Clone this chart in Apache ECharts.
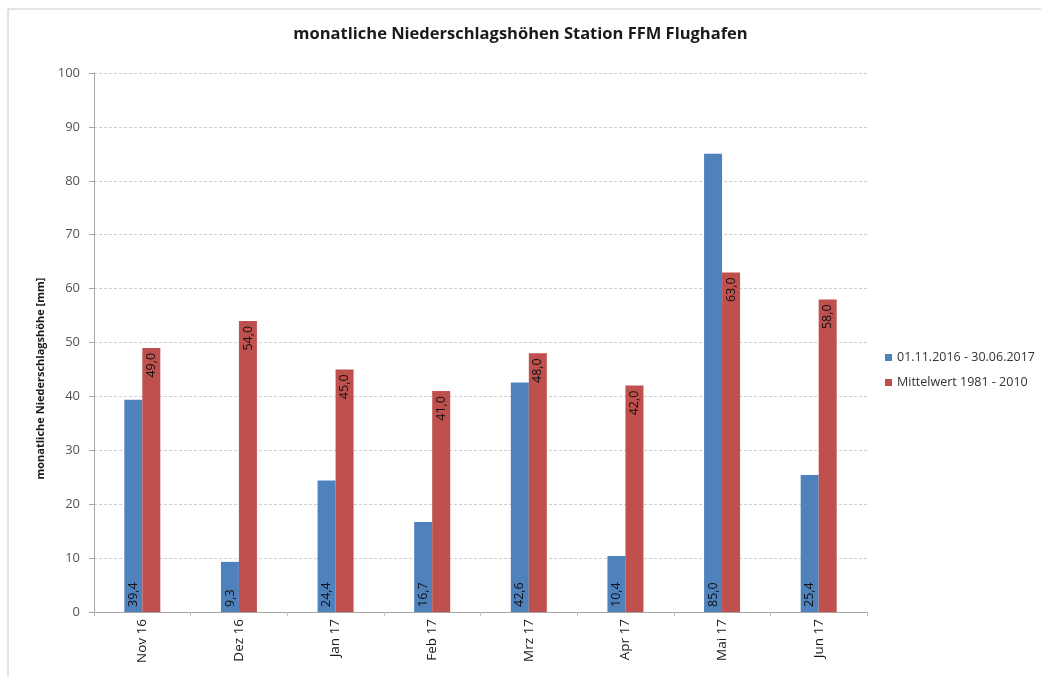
<!DOCTYPE html>
<html>
<head>
<meta charset="utf-8">
<script src="https://cdn.jsdelivr.net/npm/echarts@6/dist/echarts.min.js"></script>
<style>
  html, body { margin: 0; padding: 0; background: #fff; }
  #chart { width: 1041px; height: 677px; }
</style>
</head>
<body>
<div id="chart"></div>
<script>
const months = ['Nov 16', 'Dez 16', 'Jan 17', 'Feb 17', 'Mrz 17', 'Apr 17', 'Mai 17', 'Jun 17'];
const current = [39.4, 9.3, 24.4, 16.7, 42.6, 10.4, 85.0, 25.4];
const average = [49.0, 54.0, 45.0, 41.0, 48.0, 42.0, 63.0, 58.0];
const yTicks = [0, 10, 20, 30, 40, 50, 60, 70, 80, 90, 100];

const font = '"Open Sans", sans-serif';
const fmt = p => p.value.toFixed(1).replace('.', ',');

const chart = echarts.init(document.getElementById('chart'));

chart.setOption({
  animation: false,
  textStyle: { fontFamily: font },
  title: {
    text: 'monatliche Niederschlagshöhen Station FFM Flughafen',
    left: 'center',
    top: 21,
    textStyle: { fontSize: 16.5, fontWeight: 'bold', color: '#1a1a1a', fontFamily: font }
  },
  graphic: [{
    // Rahmen (nur links/oben sichtbar)
    type: 'rect',
    shape: { x: 8, y: 9, width: 1100, height: 700 },
    style: { fill: 'none', stroke: '#c8c8c8', lineWidth: 1 },
    silent: true
  }],
  legend: {
    orient: 'vertical',
    left: 880,
    top: 346,
    itemWidth: 7,
    itemHeight: 7,
    itemGap: 12,
    icon: 'rect',
    textStyle: { fontSize: 12.5, color: '#333', fontFamily: font },
    data: ['01.11.2016 - 30.06.2017', 'Mittelwert 1981 - 2010']
  },
  grid: { left: 94, right: 174, top: 73, bottom: 65 },
  xAxis: {
    type: 'category',
    data: months,
    axisLine: { lineStyle: { color: '#a6a6a6' } },
    axisTick: { show: true, length: 4, lineStyle: { color: '#c0c0c0' } },
    axisLabel: { rotate: 90, fontSize: 13.5, color: '#1a1a1a', margin: 7 }
  },
  yAxis: {
    type: 'value',
    min: 0,
    max: 100,
    interval: yTicks[1] - yTicks[0],
    name: 'monatliche Niederschlagshöhe [mm]',
    nameLocation: 'middle',
    nameGap: 48,
    nameTextStyle: { fontSize: 11, fontWeight: 'bold', color: '#1a1a1a', padding: [0, 72, 0, 0] },
    axisLine: { show: true, lineStyle: { color: '#a6a6a6' } },
    axisTick: { show: true, length: 5, lineStyle: { color: '#a6a6a6' } },
    axisLabel: { fontSize: 13, color: '#555', margin: 14 },
    splitLine: { lineStyle: { color: '#cfcfcf', type: [3, 2], width: 1 } }
  },
  series: [
    {
      name: '01.11.2016 - 30.06.2017',
      type: 'bar',
      data: current,
      barWidth: 18,
      barGap: '0%',
      itemStyle: { color: '#4F81BD' },
      label: {
        show: true,
        position: 'insideBottom',
        rotate: 90,
        align: 'left',
        verticalAlign: 'middle',
        distance: 5,
        fontSize: 12.5,
        color: '#111',
        formatter: fmt
      }
    },
    {
      name: 'Mittelwert 1981 - 2010',
      type: 'bar',
      data: average,
      barWidth: 18,
      barGap: '0%',
      itemStyle: { color: '#C0504D' },
      label: {
        show: true,
        position: 'insideTop',
        rotate: 90,
        align: 'right',
        verticalAlign: 'middle',
        distance: 5,
        fontSize: 12.5,
        color: '#111',
        formatter: fmt
      }
    }
  ]
});

window.addEventListener('resize', function () {
  chart.resize();
});
</script>
</body>
</html>
